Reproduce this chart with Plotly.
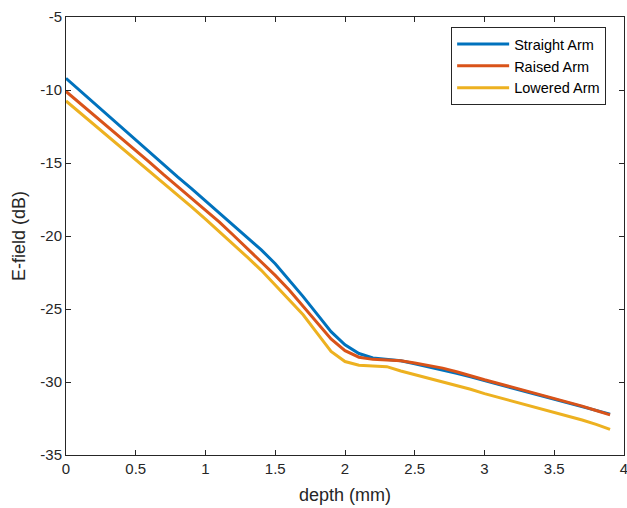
import plotly.graph_objects as go

depth = [round(0.1 * i, 1) for i in range(40)]

straight_arm = [-9.2, -10.05, -10.9, -11.75, -12.6, -13.45, -14.3, -15.1, -15.95, -16.75,
                -17.6, -18.4, -19.25, -20.1, -20.95, -21.9, -23.0, -24.15, -25.35, -26.55,
                -27.45, -28.05, -28.35, -28.45, -28.55, -28.75, -28.95, -29.15, -29.4, -29.65,
                -29.9, -30.15, -30.4, -30.65, -30.9, -31.15, -31.4, -31.7, -31.95, -32.2]

raised_arm = [-10.1, -10.9, -11.7, -12.5, -13.35, -14.15, -14.95, -15.8, -16.6, -17.4,
              -18.25, -19.05, -19.95, -20.85, -21.75, -22.7, -23.7, -24.8, -25.95, -27.05,
              -27.85, -28.3, -28.45, -28.5, -28.55, -28.7, -28.85, -29.05, -29.3, -29.6,
              -29.85, -30.1, -30.35, -30.6, -30.85, -31.1, -31.35, -31.65, -31.95, -32.25]

lowered_arm = [-10.75, -11.55, -12.35, -13.15, -13.95, -14.75, -15.55, -16.35, -17.2, -18.0,
               -18.85, -19.7, -20.6, -21.45, -22.35, -23.35, -24.35, -25.4, -26.65, -27.9,
               -28.6, -28.85, -28.9, -28.95, -29.25, -29.5, -29.7, -29.95, -30.2, -30.5,
               -30.8, -31.05, -31.3, -31.6, -31.85, -32.1, -32.35, -32.6, -32.9, -33.25]

series_names = ["Straight Arm", "Raised Arm", "Lowered Arm"]
colors = ["#0072BD", "#D95319", "#EDB120"]

x_ticks = [0, 0.5, 1, 1.5, 2, 2.5, 3, 3.5, 4]
x_tick_labels = ["0", "0.5", "1", "1.5", "2", "2.5", "3", "3.5", "4"]
y_ticks = [-35, -30, -25, -20, -15, -10, -5]
y_tick_labels = ["-35", "-30", "-25", "-20", "-15", "-10", "-5"]

fig = go.Figure()
for name, vals, col in zip(series_names, [straight_arm, raised_arm, lowered_arm], colors):
    fig.add_trace(go.Scatter(x=depth, y=vals, mode="lines", name=name,
                             line=dict(color=col, width=3)))

axis_common = dict(
    showline=True, linecolor="#262626", linewidth=1, mirror="ticks",
    ticks="inside", ticklen=5, tickcolor="#262626", showgrid=False, zeroline=False,
    tickfont=dict(family="Arial", size=15, color="#262626"),
    automargin=False, autorange=False, ticklabeloverflow="allow",
)

fig.update_layout(
    width=627, height=508,
    margin=dict(l=66, r=3, t=17, b=53),
    paper_bgcolor="white", plot_bgcolor="white",
    xaxis=dict(range=[0, 4], tickvals=x_ticks, ticktext=x_tick_labels,
               title=dict(text="depth (mm)", font=dict(family="Arial", size=18, color="#262626"), standoff=12),
               **axis_common),
    yaxis=dict(range=[-35, -5], tickvals=y_ticks, ticktext=y_tick_labels,
               title=dict(text="E-field (dB)", font=dict(family="Arial", size=18, color="#262626"), standoff=10),
               **axis_common),
    legend=dict(x=0.968, y=0.977, xanchor="right", yanchor="top",
                bordercolor="#262626", borderwidth=1, bgcolor="white",
                font=dict(family="Arial", size=14.5, color="#000000"),
                tracegroupgap=0, itemwidth=52),
    showlegend=True,
)

fig.write_html("out.html", config={"displayModeBar": False},
               post_script="document.body.style.margin='0';")
